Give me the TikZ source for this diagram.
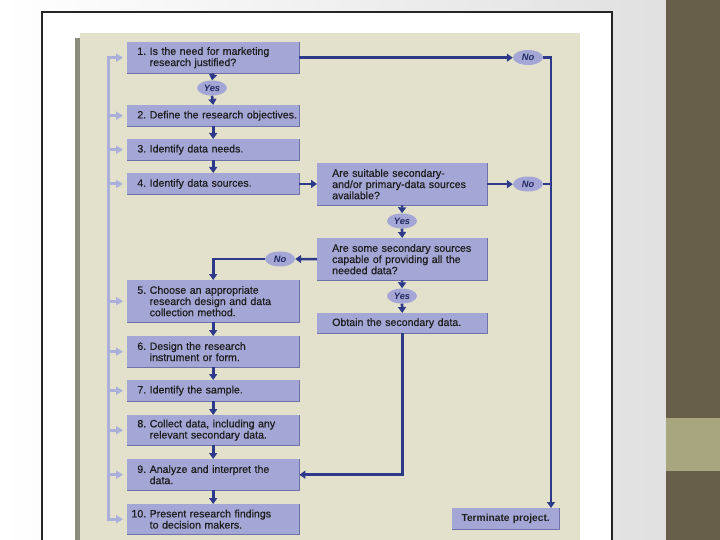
\documentclass[tikz,border=0pt]{standalone}
\usepackage{fontspec}
\setmainfont{Liberation Sans}
\newfontfamily\stepfont{Liberation Sans}[FakeBold=0.6]
\usetikzlibrary{shapes.geometric, arrows.meta}
\definecolor{boxfill}{HTML}{A4A7D5}
\definecolor{boxedge}{HTML}{6F73A8}
\definecolor{navy}{HTML}{2D3A8A}
\definecolor{feedback}{HTML}{AAB0DA}
\definecolor{panel}{HTML}{E3E1CC}
\definecolor{strip}{HTML}{8C8C7E}
\definecolor{olive}{HTML}{675F49}
\definecolor{lightolive}{HTML}{A8A67E}
\definecolor{ink}{HTML}{1E1E1E}
\tikzstyle{stepbox}=[rectangle, fill=boxfill, anchor=north west, inner xsep=1.5bp, inner ysep=0pt, text width=169bp, align=left, text=ink, font=\stepfont\fontsize{10.6bp}{11.2bp}\selectfont]
\tikzstyle{querybox}=[stepbox, text width=140bp, inner xsep=15bp]
\tikzstyle{answer}=[ellipse, fill=boxfill, inner sep=0pt, minimum width=30bp, minimum height=15bp, text=navy!70!black, font=\fontsize{9.3bp}{10bp}\selectfont\bfseries\itshape]
\tikzstyle{link}=[navy, line width=2.6bp, -{Triangle[width=8bp,length=6bp]}]
\tikzstyle{fbarrow}=[feedback, line width=3bp, -{Triangle[width=8bp,length=7bp]}, shorten >=4bp]
\newcommand{\stepbox}{\node[stepbox]}
\newcommand{\querybox}{\node[querybox]}
\newcommand{\answer}{\node[answer]}
\newcommand{\stepno}[1]{\makebox[17.5bp][r]{#1}\hspace{3.5bp}}
\newcommand{\stepindent}{\hspace*{21bp}}

\begin{document}
\begin{tikzpicture}[x=1bp, y=-1bp]
\useasboundingbox (0,0) rectangle (720,540);
\clip (0,0) rectangle (720,540);
\shade[left color=white, right color=black!12] (0,0) rectangle (666,540);
\fill[white] (42,12) rectangle (612,550);
\draw[black!85, line width=2bp] (42,12) rectangle (612,550);
\fill[panel] (80,33) rectangle (580,550);
\fill[strip] (75,38) rectangle (80,550);
\fill[olive] (666,0) rectangle (720,540);
\fill[lightolive] (666,418) rectangle (720,471);

\stepbox[minimum height=31bp] (b1) at (127,42) {\stepno{1.}Is the need for marketing\\\stepindent research justified?};
\stepbox[minimum height=21bp] (b2) at (127,105) {\stepno{2.}Define the research objectives.};
\stepbox[minimum height=21bp] (b3) at (127,139) {\stepno{3.}Identify data needs.};
\stepbox[minimum height=21.5bp] (b4) at (127,173) {\stepno{4.}Identify data sources.};
\stepbox[minimum height=42bp] (b5) at (127,280) {\stepno{5.}Choose an appropriate\\\stepindent research design and data\\\stepindent collection method.};
\stepbox[minimum height=31bp] (b6) at (127,336) {\stepno{6.}Design the research\\\stepindent instrument or form.};
\stepbox[minimum height=21bp] (b7) at (127,380) {\stepno{7.}Identify the sample.};
\stepbox[minimum height=30bp] (b8) at (127,415) {\stepno{8.}Collect data, including any\\\stepindent relevant secondary data.};
\stepbox[minimum height=31bp] (b9) at (127,459) {\stepno{9.}Analyze and interpret the\\\stepindent data.};
\stepbox[minimum height=30bp] (b10) at (127,504) {\stepno{10.}Present research findings\\\stepindent to decision makers.};
\querybox[minimum height=42bp] (qa) at (317,163) {Are suitable secondary-\\and/or primary-data sources\\available?};
\querybox[minimum height=42bp] (qb) at (317,238) {Are some secondary sources\\capable of providing all the\\needed data?};
\querybox[minimum height=20bp] (qc) at (317,313) {Obtain the secondary data.};
\stepbox[minimum height=21bp, inner xsep=3bp, text width=101bp, align=center, font=\fontsize{10.2bp}{11bp}\selectfont\bfseries] (term) at (452,508) {Terminate project.};

\foreach \b in {b1,b2,b3,b4,b5,b6,b7,b8,b9,b10,qa,qb,qc,term}
  \draw[boxedge, line width=1bp] (\b.south west) -- (\b.south east) -- (\b.north east);

\answer (y1) at (212,88) {Yes};
\answer (y2) at (402,221) {Yes};
\answer (y3) at (402,296) {Yes};
\answer (n1) at (528,57.5) {No};
\answer (n2) at (528,184) {No};
\answer (n3) at (280,259) {No};

\coordinate (fb) at (108,0);
\coordinate (drop) at (551,57.5);
\draw[feedback, line width=3bp, line cap=rect] (fb |- b1.west) -- (fb |- b10.west);
\foreach \b in {b1,b2,b3,b4,b5,b6,b7,b8,b9,b10}
  \draw[fbarrow] (fb |- \b.west) -- (\b.west);

\draw[link] (b1.south) -- (y1.north);
\draw[link] (y1.south) -- (b2.north);
\draw[link] (b2.south) -- (b3.north);
\draw[link] (b3.south) -- (b4.north);
\draw[link] (b4.east) -- (b4.east -| qa.west);
\draw[link] (qa.south) -- (y2.north);
\draw[link] (y2.south) -- (qb.north);
\draw[link] (qb.south) -- (y3.north);
\draw[link] (y3.south) -- (qc.north);
\draw[link] (qb.west) -- (n3.east);
\draw[link] (n3.west) -| (b5.north);
\draw[link] (b5.south) -- (b6.north);
\draw[link] (b6.south) -- (b7.north);
\draw[link] (b7.south) -- (b8.north);
\draw[link] (b8.south) -- (b9.north);
\draw[link] (b9.south) -- (b10.north);
\draw[link] (qc.south) |- (b9.east);
\draw[link] (b1.east) -- (b1.east -| n1.west);
\draw[link] (qa.east) -- (qa.east -| n2.west);
\draw[link] (n1.east) -- (drop) -- (drop |- term.north);
\draw[link, -] (n2.east) -- (drop |- n2.east);
\end{tikzpicture}
\end{document}
